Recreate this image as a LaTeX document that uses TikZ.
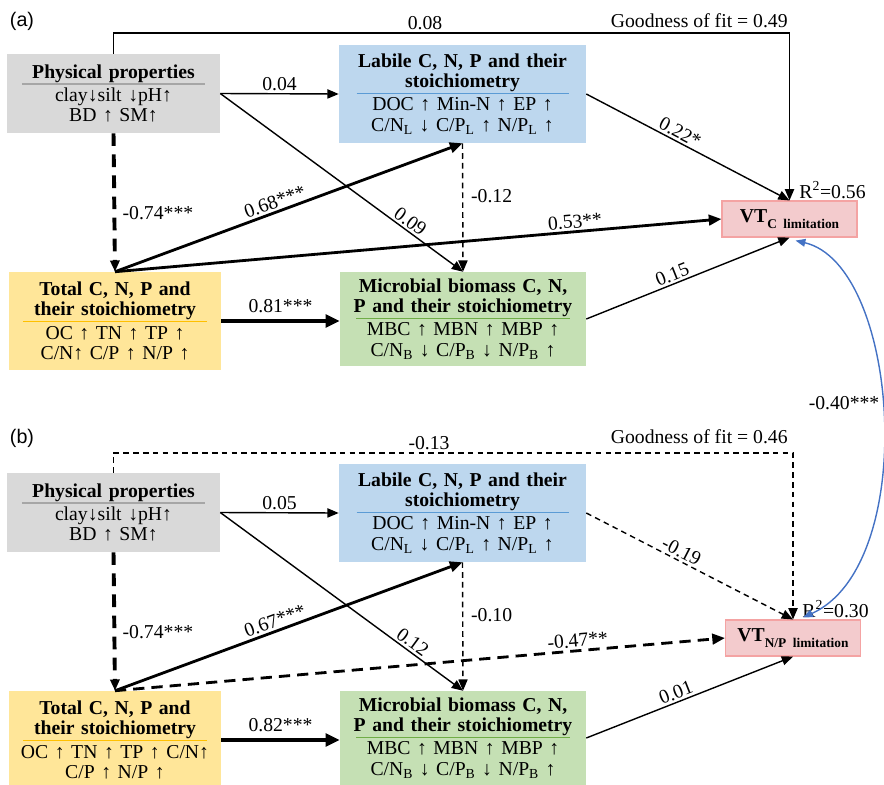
\documentclass[tikz,border=0pt]{standalone}
\usepackage{fontspec}
\setmainfont{Liberation Serif}
\setsansfont{Liberation Sans}
\usepackage{xcolor}
\usepackage{tikz}
\usetikzlibrary{%
    arrows.meta
}
\setlength{\parindent}{0pt}

\definecolor{physgray}{HTML}{D9D9D9}
\definecolor{physrule}{HTML}{A6A6A6}
\definecolor{labblue}{HTML}{BDD7EE}
\definecolor{labrule}{HTML}{5B9BD5}
\definecolor{totyellow}{HTML}{FFE699}
\definecolor{totrule}{HTML}{FFC000}
\definecolor{micgreen}{HTML}{C5E0B4}
\definecolor{micrule}{HTML}{70AD47}
\definecolor{vtpink}{HTML}{F3CBCD}
\definecolor{vtedge}{HTML}{F4A3A3}
\definecolor{corrblue}{HTML}{4472C4}

% title, rule colour, rule width, body lines
\newcommand{\boxtext}[4]{%
  {\bfseries #1\par}\vspace{-10pt}%
  {\color{#2}\rule{#3}{0.8pt}\par}\vspace{-2.5pt}%
  #4}

\begin{document}
\begin{tikzpicture}[x=0.25mm, y=-0.25mm,
    box/.style={rectangle, inner xsep=1mm, inner ysep=0pt, align=center,
      font=\fontsize{14}{14.5}\selectfont},
    phys/.style={box, fill=physgray, minimum width=53.25mm,
      minimum height=19.75mm, text width=51.25mm},
    labile/.style={box, fill=labblue, minimum width=61.75mm,
      minimum height=24.5mm, text width=59.75mm},
    total/.style={box, fill=totyellow, minimum width=53mm,
      minimum height=24.5mm, text width=51mm},
    micro/.style={box, fill=micgreen, minimum width=61.5mm,
      minimum height=23.5mm, text width=59.5mm},
    vt/.style={box, fill=vtpink, draw=vtedge, line width=0.8pt,
      minimum width=33.75mm, minimum height=9mm, text width=31.75mm,
      font=\fontsize{14}{14}\selectfont\bfseries},
    lab/.style={inner sep=1.5pt, font=\fontsize{14}{14}\selectfont},
    tag/.style={font=\sffamily\fontsize{14}{14}\selectfont},
    link/.style={-{Triangle[length=8pt,width=6.5pt]}, line width=1pt},
    strong/.style={line width=2pt, -{Triangle[length=9pt,width=7.5pt]}},
    strongest/.style={line width=3.5pt, -{Triangle[length=10pt,width=9pt]}},
    neg/.style={dash pattern=on 4pt off 3pt},
    strongneg/.style={dash pattern=on 9pt off 6pt},
    corr/.style={{Triangle[length=7pt,width=5.5pt]}-{Triangle[length=7pt,width=5.5pt]},
      corrblue, line width=1pt}
  ]
  \useasboundingbox (0,0) rectangle (884,784);

  %% (a) C limitation
  \node[tag] (taga) at (22,21) {(a)};

  \node[phys] (pa) at (113.5,93.5)
  {\boxtext{Physical properties}{physrule}{45.75mm}
    {clay↓silt ↓pH↑\\BD ↑ SM↑}};
  \node[labile] (la) at (462.5,94)
  {\boxtext{Labile C, N, P and their\\stoichiometry}{labrule}{53mm}
    {DOC ↑ Min-N ↑ EP ↑\\C/N\textsubscript{L} ↓ C/P\textsubscript{L} ↑ N/P\textsubscript{L} ↑}};
  \node[total] (ta) at (115,321)
  {\boxtext{Total C, N, P and\\their stoichiometry}{totrule}{46mm}
    {OC ↑ TN ↑ TP ↑\\C/N↑ C/P ↑ N/P ↑}};
  \node[micro] (ma) at (463,319)
  {\boxtext{Microbial biomass C, N,\\P and their stoichiometry}{micrule}{53.5mm}
    {MBC ↑ MBN ↑ MBP ↑\\C/N\textsubscript{B} ↓ C/P\textsubscript{B} ↓ N/P\textsubscript{B} ↑}};
  \node[vt] (va) at (789.5,219)
  {VT\raisebox{-4pt}{\fontsize{9.5}{10}\selectfont C limitation}};

  \node[lab, anchor=base east] (gofa) at (790,27) {Goodness of fit = 0.49};
  \node[lab, anchor=base west] (r2a) at (797,198) {R\textsuperscript{2}=0.56};

  \coordinate (topa) at (425,33);
  \draw[link] (pa.north) |- (topa) node[lab, above] {0.08} -| (va.north);
  \draw[link] (pa.east) -- node[lab, above] {0.04} (la.west);
  \draw[link] (pa.east) -- node[lab, above, sloped, pos=0.76] {0.09} (ma.north);
  \draw[link, strongneg, line width=2.8pt] (pa.south)
    -- node[lab, right=3pt, pos=0.58] {-0.74***} (ta.north);
  \draw[strong] (ta.north) -- node[lab, above, sloped, pos=0.47] {0.68***} (la.south);
  \draw[strong] (ta.north) -- node[lab, above, sloped, pos=0.76] {0.53**} (va.west);
  \draw[link, neg] (la.south) -- node[lab, right=4pt, pos=0.41] {-0.12} (ma.north);
  \draw[link] (la.east) -- node[lab, above, sloped, pos=0.44] {0.22*} (va.north);
  \draw[link] (ma.east) -- node[lab, above, sloped, pos=0.44] {0.15} (va.south);
  \draw[strongest] (ta.east) -- node[lab, above=2.5pt] {0.81***} (ta.east -| ma.west);

  %% (b) N/P limitation
  \node[tag] (tagb) at (22,438) {(b)};

  \node[phys] (pb) at (113.5,512.5)
  {\boxtext{Physical properties}{physrule}{45.75mm}
    {clay↓silt ↓pH↑\\BD ↑ SM↑}};
  \node[labile] (lb) at (462.5,513)
  {\boxtext{Labile C, N, P and their\\stoichiometry}{labrule}{53mm}
    {DOC ↑ Min-N ↑ EP ↑\\C/N\textsubscript{L} ↓ C/P\textsubscript{L} ↑ N/P\textsubscript{L} ↑}};
  \node[total] (tb) at (115,740)
  {\boxtext{Total C, N, P and\\their stoichiometry}{totrule}{46mm}
    {OC ↑ TN ↑ TP ↑ C/N↑\\C/P ↑ N/P ↑}};
  \node[micro] (mb) at (463,738)
  {\boxtext{Microbial biomass C, N,\\P and their stoichiometry}{micrule}{53.5mm}
    {MBC ↑ MBN ↑ MBP ↑\\C/N\textsubscript{B} ↓ C/P\textsubscript{B} ↓ N/P\textsubscript{B} ↑}};
  \node[vt] (vb) at (793,638)
  {VT\raisebox{-4pt}{\fontsize{9.5}{10}\selectfont N/P limitation}};

  \node[lab, anchor=base east] (gofb) at (790,443) {Goodness of fit = 0.46};
  \node[lab, anchor=base west] (r2b) at (800,617) {R\textsuperscript{2}=0.30};

  \coordinate (topb) at (429,453);
  \draw[link, neg] (pb.north) |- (topb) node[lab, above] {-0.13} -| (vb.north);
  \draw[link] (pb.east) -- node[lab, above] {0.05} (lb.west);
  \draw[link] (pb.east) -- node[lab, above, sloped, pos=0.77] {0.12} (mb.north);
  \draw[link, strongneg, line width=2.8pt] (pb.south)
    -- node[lab, right=3pt, pos=0.58] {-0.74***} (tb.north);
  \draw[strong] (tb.north) -- node[lab, above, sloped, pos=0.47] {0.67***} (lb.south);
  \draw[strong, dash pattern=on 8pt off 5pt] (tb.north)
    -- node[lab, above, sloped, pos=0.76] {-0.47**} (vb.west);
  \draw[link, neg] (lb.south) -- node[lab, right=4pt, pos=0.41] {-0.10} (mb.north);
  \draw[link, neg] (lb.east) -- node[lab, above, sloped, pos=0.44] {-0.19} (vb.north);
  \draw[link] (mb.east) -- node[lab, above, sloped, pos=0.45] {0.01} (vb.south);
  \draw[strongest] (tb.east) -- node[lab, above=2.5pt] {0.82***} (tb.east -| mb.west);

  %% correlation between the two limitations
  \draw[corr] ([shift={(6,3)}]va.south) .. controls (900,265) and (920,565)
    .. ([shift={(10,-2)}]vb.north)
    node[lab, pos=0.47, anchor=east, inner sep=1pt, text=black] {-0.40***};
\end{tikzpicture}
\end{document}
